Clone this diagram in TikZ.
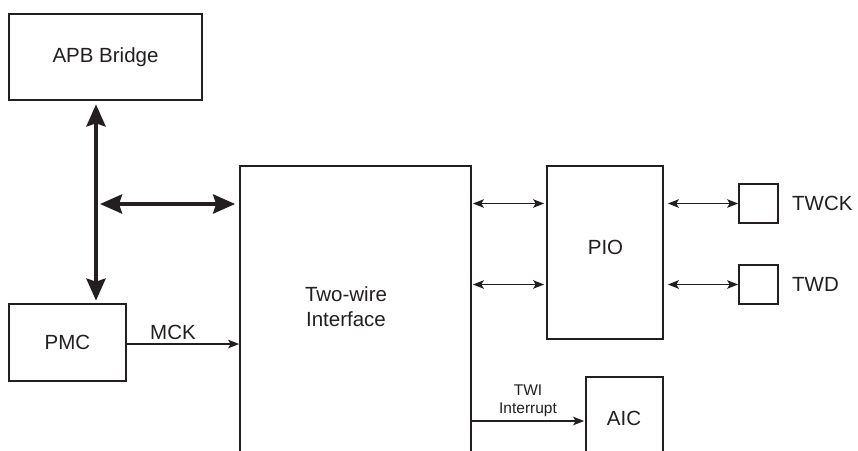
\documentclass[tikz,border=0pt]{standalone}
\usepackage{fontspec}
\setmainfont{Liberation Sans}
\usetikzlibrary{arrows.meta}
\definecolor{ink}{RGB}{35,31,32}
\begin{document}
\begin{tikzpicture}[x=1pt,y=-1pt,
  box/.style={draw=ink,line width=1.7pt,inner sep=0pt,text=ink},
  lbl/.style={text=ink,inner sep=0pt,font=\fontsize{20.5}{25}\selectfont},
  small/.style={text=ink,inner sep=0pt,align=center,font=\fontsize{15.5}{18.5}\selectfont},
  busarrow/.style={draw=ink,line width=4pt,{Stealth[length=22pt,width=19pt,inset=3pt]}-{Stealth[length=22pt,width=19pt,inset=3pt]}},
  sig/.style={draw=ink,line width=1.2pt,-{Stealth[length=11pt,width=8.5pt,inset=2.5pt]}},
  sigboth/.style={draw=ink,line width=1.2pt,{Stealth[length=11pt,width=8.5pt,inset=2.5pt]}-{Stealth[length=11pt,width=8.5pt,inset=2.5pt]}}]
\clip (0,0) rectangle (858,450);
\fill[white] (0,0) rectangle (858,450);
% boxes
\node[box,lbl,draw=ink,minimum width=193pt,minimum height=86pt] (apb) at (105.5,57) {APB Bridge};
\node[box,lbl,draw=ink,minimum width=117pt,minimum height=77pt] (pmc) at (67.5,342.5) {PMC};
\node[box,minimum width=231pt,minimum height=304pt] (twi) at (355.5,318) {};
\node[lbl,align=center] (twitext) at (346,306.5) {Two-wire\\Interface};
\node[box,minimum width=116pt,minimum height=173pt] (pio) at (605,252.5) {};
\node[lbl] (piotext) at (605.5,247) {PIO};
\node[box,minimum width=39pt,minimum height=39pt] (twck) at (758.5,203.5) {};
\node[box,minimum width=39pt,minimum height=39pt] (twd) at (758.5,284.5) {};
\node[lbl,anchor=west] (twcklbl) at (792,203.5) {TWCK};
\node[lbl,anchor=west] (twdlbl) at (792,284.5) {TWD};
\node[box,minimum width=77pt,minimum height=103pt] (aic) at (624.5,428.5) {};
\node[lbl] (aictext) at (624,418.5) {AIC};
% bus
\coordinate (bus) at (96,204);
\draw[busarrow,shorten <=3.5pt,shorten >=2.5pt] (bus |- apb.south) -- (bus |- pmc.north);
\draw[busarrow,shorten <=4pt,shorten >=4pt] (bus) -- (twi.west |- bus);
% MCK
\coordinate (mck) at (0,344);
\draw[sig] (pmc.east |- mck) -- (twi.west |- mck);
\node[lbl] (mcklbl) at (173,332) {MCK};
% TWI <-> PIO
\coordinate (r1) at (0,203.5);
\coordinate (r2) at (0,284.5);
\draw[sigboth,shorten <=1pt,shorten >=2pt] (twi.east |- r1) -- (pio.west |- r1);
\draw[sigboth,shorten <=1pt,shorten >=2pt] (twi.east |- r2) -- (pio.west |- r2);
\draw[sigboth,shorten <=4pt] (pio.east |- twck) -- (twck.west);
\draw[sigboth,shorten <=4pt] (pio.east |- twd) -- (twd.west);
% interrupt
\coordinate (r3) at (0,421);
\draw[sig,shorten >=1pt] (twi.east |- r3) -- (aic.west |- r3);
\node[small] (irqlbl) at (528,401) {TWI\\Interrupt};
\end{tikzpicture}
\end{document}
